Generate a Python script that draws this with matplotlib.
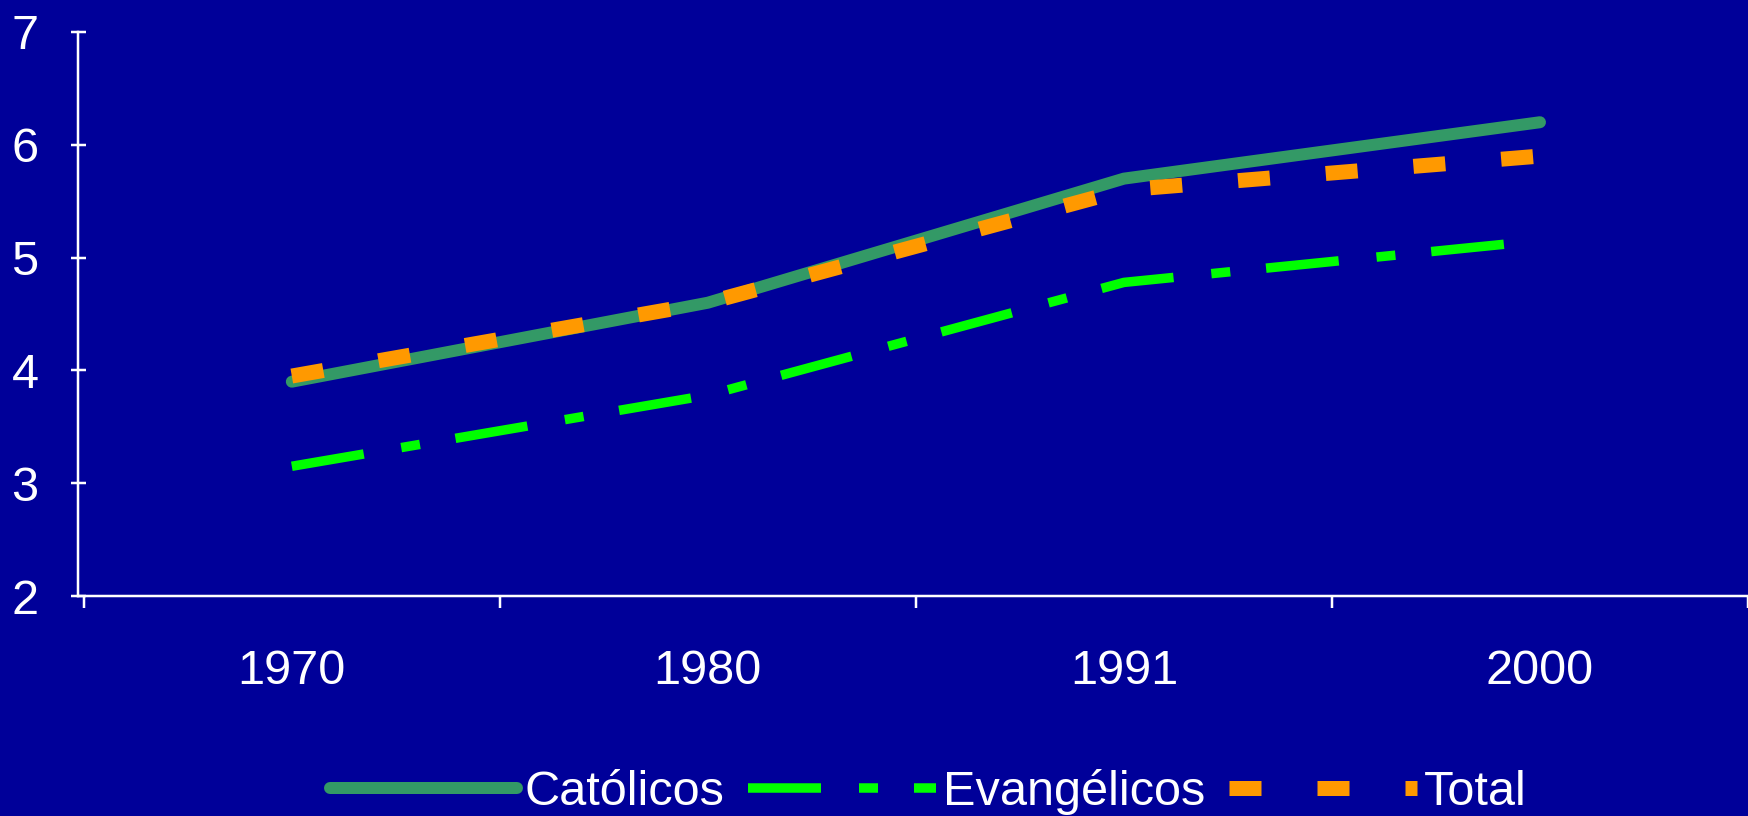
import matplotlib.pyplot as plt
import numpy as np

plt.rcParams["font.family"] = ["Liberation Sans", "DejaVu Sans"]
plt.rcParams["lines.scale_dashes"] = False

years = ["1970", "1980", "1991", "2000"]
catolicos = [3.9, 4.6, 5.7, 6.2]
evangelicos = [3.15, 3.78, 4.78, 5.15]
total = [3.95, 4.6, 5.6, 5.9]

BG = "#000099"
PX = 72 / 100  # points per pixel at dpi 100

fig = plt.figure(figsize=(17.48, 8.16), dpi=100, facecolor=BG)
ax = fig.add_axes([0.0446, 0.2696, 0.9554, 0.6912], facecolor=BG)

x = np.arange(len(years))
ax.plot(x, catolicos, color="#339966", lw=12 * PX, solid_capstyle="round", label="Católicos", zorder=2)
ax.plot(x, evangelicos, color="#00FF00", lw=9.5 * PX, dash_capstyle="butt",
        dashes=(73 * PX, 38 * PX, 19 * PX, 36 * PX), label="Evangélicos", zorder=3)
ax.plot(x, total, color="#FF9900", lw=15 * PX, dash_capstyle="butt",
        dashes=(32 * PX, 56 * PX), label="Total", zorder=4)

ax.set_xlim(-0.514, 3.5)
ax.set_ylim(2, 7)
ax.set_yticks(range(2, 8))
ax.set_xticks(x)
ax.set_xticklabels(years)
ax.set_xticks(np.arange(-0.5, 3.6, 1), minor=True)

for side in ["top", "right"]:
    ax.spines[side].set_visible(False)
for side in ["left", "bottom"]:
    ax.spines[side].set_color("white")
    ax.spines[side].set_linewidth(2.5 * PX)

ax.tick_params(axis="y", colors="white", labelsize=35, direction="inout", length=15 * PX,
               width=2.5 * PX, pad=23)
ax.tick_params(axis="x", which="major", colors="white", labelsize=35, length=0, pad=38)
ax.tick_params(axis="x", which="minor", colors="white", direction="out", length=12 * PX,
               width=2.5 * PX)

leg = fig.legend(loc="center", bbox_to_anchor=(0.531, 0.03), ncol=3, frameon=False,
                 fontsize=35, handlelength=3.85, handletextpad=0.15, columnspacing=0.5)
for t in leg.get_texts():
    t.set_color("white")

fig.savefig("out.png", dpi=100, facecolor=BG)
